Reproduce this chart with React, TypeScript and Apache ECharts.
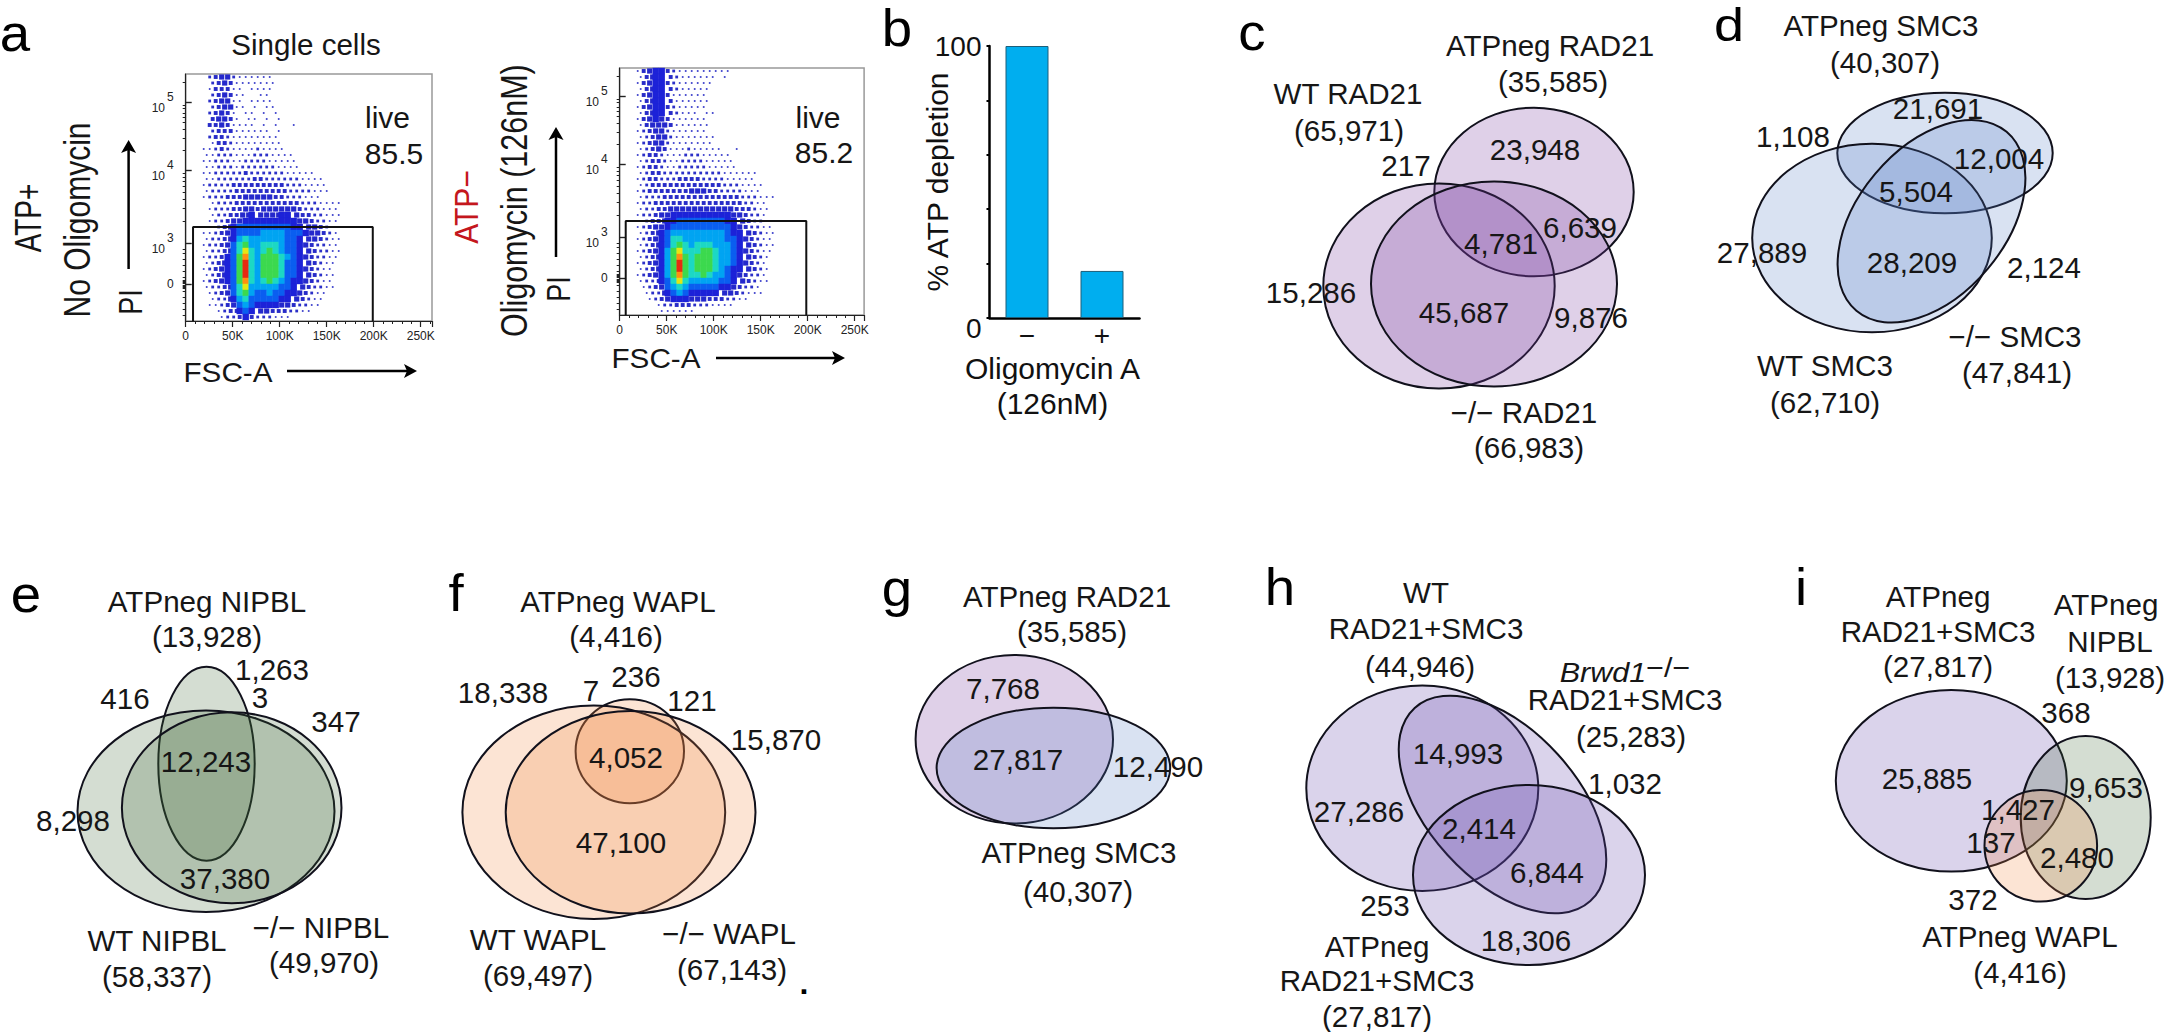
import React, { useEffect, useRef } from "react";
import * as echarts from "echarts";

const FONT = '"Liberation Sans", Arial, sans-serif';

// ---------- Panel a: flow cytometry density ----------
const liveGateTop = 94;
const fscTicks = ["0", "50K", "100K", "150K", "200K", "250K"];
const piMajorChannels = [37, 78, 151, 219];
const piMajorLabels = ["{a|0}", "{b|10}{c|3}", "{b|10}{c|4}", "{b|10}{c|5}"];
const piMinorChannels = [
  6, 12, 18, 24, 30, 33, 34, 35, 36, 38, 39, 40, 41, 44, 50, 56, 62, 68, 72, 100, 113, 122, 129,
  135, 140, 144, 148, 171, 183, 192, 199, 204, 208, 213, 216, 239,
];
const densityNoOligomycin = [
  "0023442111111",
  "0023431111111",
  "0013331101111",
  "0023431100110",
  "0023441101111",
  "0023441101011",
  "00234310110101",
  "00344310110101",
  "00334311110101001",
  "0023331111110100",
  "00233211111111",
  "00133211111111",
  "0112321111211110",
  "0112221112221111",
  "011222112222111110",
  "01122212222221111",
  "01122222322222211111",
  "011222222332222221111",
  "0122223333333332221111",
  "0122223333333332222111",
  "0122233344444332221110",
  "001222333333333332221111",
  "001222334434444443222111",
  "001223344544445543322111",
  "001223445555555554432211",
  "011234566666666655443211",
  "011234566667777666544321",
  "012234578777777665443211",
  "012234689778887665432211",
  "01223468a878987665432211",
  "01223569b879998765432211",
  "01234569c879998665432110",
  "01234569c879998665432110",
  "01234569c879998665432110",
  "01234569b878987655432110",
  "01223468a777776654322110",
  "001234689766766554321100",
  "001224578666665543211000",
  "0011234676555544322110",
  "0001233565443332211",
  "0000122353222111",
];
const densityOligomycin = [
  "01345532111111111",
  "0134553211111101",
  "0134553211111100",
  "0134553211111",
  "01345531111110",
  "0134553111111",
  "0134553211111",
  "0134553211101100",
  "0134543111111",
  "0134443111111",
  "0123442111111",
  "01234421111111",
  "01234421111111",
  "012343111211111001",
  "01233211122211111",
  "01233211222211111",
  "0123321122222111110",
  "012332222222222111111",
  "012332223333222211111",
  "0123333333333332221111",
  "0123333333444332222111",
  "012223333333333333222111",
  "01223333333333333332211",
  "012233444444444443332110",
  "012234455555555554432210",
  "012334556666666655432211",
  "012344566666666665432211",
  "012345677777777765543211",
  "012345688777777766543211",
  "012345689878887776543211",
  "01234579a888998776543211",
  "01234579b989998776543210",
  "01234579c989998776543210",
  "01234579c989998765543210",
  "01234579b988987765432210",
  "01223568a877777665432110",
  "00123467876666655432210",
  "0012245676555554432111",
  "000123455544433322110",
  "00001223332221111",
  "00000111111",
];

// ---------- Panel b ----------
const oligomycinCategories = ["−", "+"];
const atpDepletion = [100, 17.3];

// ---------- Venn panels: printed texts ----------
const textsC = ["ATPneg RAD21", "(35,585)", "WT RAD21", "(65,971)", "217", "23,948", "6,639", "4,781", "15,286", "45,687", "9,876", "−/− RAD21", "(66,983)"];
const textsD = ["ATPneg SMC3", "(40,307)", "21,691", "1,108", "12,004", "5,504", "27,889", "28,209", "2,124", "−/− SMC3", "(47,841)", "WT SMC3", "(62,710)"];
const textsE = ["ATPneg NIPBL", "(13,928)", "1,263", "416", "3", "347", "12,243", "8,298", "37,380", "−/− NIPBL", "(49,970)", "WT NIPBL", "(58,337)"];
const textsF = ["ATPneg WAPL", "(4,416)", "18,338", "7", "236", "121", "15,870", "4,052", "47,100", "WT WAPL", "(69,497)", "−/− WAPL", "(67,143)"];
const textsG = ["ATPneg RAD21", "(35,585)", "7,768", "27,817", "12,490", "ATPneg SMC3", "(40,307)"];
const textsH = ["WT", "RAD21+SMC3", "(44,946)", "{i|Brwd1}{s|−/−}", "RAD21+SMC3", "(25,283)", "1,032", "14,993", "27,286", "2,414", "6,844", "253", "18,306", "ATPneg", "RAD21+SMC3", "(27,817)"];
const textsI = ["ATPneg", "RAD21+SMC3", "(27,817)", "ATPneg", "NIPBL", "(13,928)", "368", "25,885", "9,653", "1,427", "137", "2,480", "372", "ATPneg WAPL", "(4,416)"];

// ---------- Layout (pixel positions of the drawing) ----------
const posC = [[1550,46],[1553,82],[1348,94],[1349,131],[1406,166],[1535,150],[1580,228],[1501,244],[1311,293],[1464,313],[1591,318],[1524,413],[1529,448]];
const posD = [[1881,26],[1885,63],[1938,109],[1793,137],[1999,159],[1916,192],[1762,253],[1912,263],[2044,268],[2015,337],[2017,373],[1825,366],[1825,403]];
const posE = [[207,602],[207,637],[272,670],[125,699],[260,698],[336,722],[206,762],[73,821],[225,879],[321,928],[324,963],[157,941],[157,977]];
const posF = [[618,602],[616,637],[503,693],[591,691],[636,677],[692,701],[776,740],[626,758],[621,843],[538,940],[538,976],[729,934],[732,970]];
const posG = [[1067,597],[1072,632],[1003,689],[1018,760],[1158,767],[1079,853],[1078,892]];
const posH = [[1426,593],[1426,629],[1420,667],[1625,673],[1625,700],[1631,737],[1625,784],[1458,754],[1359,812],[1479,829],[1547,873],[1385,906],[1526,941],[1377,947],[1377,981],[1377,1017]];
const posI = [[1938,597],[1938,632],[1938,667],[2106,605],[2110,642],[2110,678],[2066,713],[1927,779],[2106,788],[2018,810],[1991,843],[2077,858],[1973,900],[2020,937],[2020,973]];

const PURPLE = "rgba(120,60,160,0.24)";
const BLUE = "rgba(83,123,196,0.22)";
const GREEN = "rgba(60,100,50,0.22)";
const ORANGE = "rgba(240,130,60,0.22)";
const VIOLET = "rgba(100,70,170,0.24)";

// cx, cy, rx, ry, rotation in degrees (counter-clockwise), fill
const ellipses: [number, number, number, number, number, string][] = [
  [1534, 192, 99.7, 84.3, 0, PURPLE],
  [1439, 286, 115.7, 102.5, 0, PURPLE],
  [1494, 284, 123, 102.5, 0, PURPLE],
  [1945, 153, 107.7, 60.3, 0, BLUE],
  [1872, 238, 119.8, 94.3, 0, BLUE],
  [1931.5, 221.3, 73.6, 116.8, -40, BLUE],
  [206.5, 763.7, 48.2, 97, 0, GREEN],
  [206, 811.3, 128.5, 100.7, 0, GREEN],
  [231.7, 807.8, 109.8, 95.5, 0, GREEN],
  [629.8, 751.3, 54.2, 52, 0, ORANGE],
  [593.8, 812.3, 131.4, 106.7, 0, ORANGE],
  [630.6, 812.2, 124.9, 101.2, 0, ORANGE],
  [1014.3, 739.2, 98.7, 84.2, 0, PURPLE],
  [1053.4, 768, 116.8, 60.3, 0, BLUE],
  [1422.3, 788.3, 116, 102.7, 0, VIOLET],
  [1502.5, 804.5, 74.6, 130.5, 42.3, VIOLET],
  [1529, 875, 116, 90, 0, VIOLET],
  [1951.3, 780.8, 115.5, 90.8, 0, VIOLET],
  [2085.7, 817.5, 65, 81.5, 0, GREEN],
  [2040.8, 845.8, 56.3, 55.8, 0, ORANGE],
];

const densityColors = ["#ffffff","#3034c8","#2c30c8","#282cc8","#2428cc","#1c22d8","#0a5ef0","#00a4f2","#1cd8c4","#3cd94e","#e4e612","#ff8f10","#e62a10"];
const densitySizes = [0, 1.7, 2.8, 3.9, 5.2, 6.4, 6.4, 6.4, 6.4, 6.4, 6.4, 6.4, 6.4];

const label = (text: string, x: number, y: number, o: any = {}) => ({
  type: "text",
  x,
  y,
  rotation: o.rot ? (o.rot * Math.PI) / 180 : 0,
  scaleX: o.sx ?? 1.02,
  scaleY: o.sy ?? 1,
  z: 20,
  style: {
    text,
    font: `${o.w ?? "normal"} ${o.size ?? 29}px ${FONT}`,
    fill: o.fill ?? "#161616",
    align: "center",
    verticalAlign: "middle",
    textAlign: "center",
    textVerticalAlign: "middle",
    rich: o.rich,
  },
});

const arrowUp = (x: number, y0: number, y1: number) => [
  { type: "line", z: 20, shape: { x1: x, y1: y0, x2: x, y2: y1 + 8 }, style: { stroke: "#000", lineWidth: 2.5 } },
  { type: "polygon", z: 20, shape: { points: [[x - 7.5, y1 + 13], [x, y1], [x + 7.5, y1 + 13], [x, y1 + 10]] }, style: { fill: "#000" } },
];
const arrowRight = (x0: number, x1: number, y: number) => [
  { type: "line", z: 20, shape: { x1: x0, y1: y, x2: x1 - 8, y2: y }, style: { stroke: "#000", lineWidth: 2.5 } },
  { type: "polygon", z: 20, shape: { points: [[x1 - 13, y - 7], [x1, y], [x1 - 13, y + 7], [x1 - 10, y]] }, style: { fill: "#000" } },
];

const panelLabels: [string, number, number, number, number, number][] = [
  ["a", 15, 33, 52, 1.05, 1], ["b", 897, 28, 52, 1.05, 1], ["c", 1252, 32, 52, 1.05, 1], ["d", 1729, 25, 40, 1.35, 1.15],
  ["e", 26, 594, 52, 1.05, 1], ["f", 456, 593, 52, 1.05, 1], ["g", 897, 588, 52, 1.05, 1], ["h", 1280, 587, 52, 1.05, 1], ["i", 1801, 587, 52, 1.05, 1],
];

const FSC_BIN_START = 9570;
const FSC_BIN = 6383;
const CHANNEL_MAX = 247;
const cellsFrom = (rows: string[]) => {
  const out: number[][] = [];
  rows.forEach((row, r) => {
    row.split("").forEach((ch, c) => {
      const level = parseInt(ch, 16);
      // the sparse speckle sits on a brick pattern, the solid core on a plain one
      const shift = level < 5 && r % 2 ? 0.5 : 0;
      if (level > 0) out.push([FSC_BIN_START + FSC_BIN * (c + 0.5 + shift), CHANNEL_MAX - 3 - 6 * r, level]);
    });
  });
  return out;
};

const plotX = (xMax: number, gridIndex: number) => ({
  type: "value", gridIndex, min: 0, max: xMax, interval: 50000,
  axisLine: { show: true, onZero: false, lineStyle: { color: "#222", width: 1.2 } },
  axisTick: { show: true, length: 6, lineStyle: { color: "#222", width: 1.2 } },
  minorTick: { show: true, splitNumber: 5, length: 3, lineStyle: { color: "#222", width: 1 } },
  splitLine: { show: false }, minorSplitLine: { show: false },
  axisLabel: {
    fontFamily: FONT, fontSize: 12, color: "#222", margin: 9, showMaxLabel: false,
    formatter: (v: number) => fscTicks[Math.round(v / 50000)] ?? "",
  },
});
const plotYMinor = (gridIndex: number) => ({
  type: "value", gridIndex, min: 0, max: CHANNEL_MAX,
  axisLine: { show: true, onZero: false, lineStyle: { color: "#222", width: 1.2 } },
  axisTick: { show: true, length: 3, customValues: piMinorChannels, lineStyle: { color: "#222", width: 1 } },
  splitLine: { show: false },
  axisLabel: {
    customValues: piMajorChannels, margin: 12, color: "#222", fontFamily: FONT, fontSize: 12,
    formatter: (v: number) => piMajorLabels[piMajorChannels.indexOf(v)] ?? "",
    rich: {
      a: { fontFamily: FONT, fontSize: 12, color: "#222" },
      b: { fontFamily: FONT, fontSize: 12, color: "#222", padding: [11, 2, 0, 0] },
      c: { fontFamily: FONT, fontSize: 12, color: "#222", padding: [0, 0, 11, 0] },
    },
  },
});
const plotYMajor = (gridIndex: number) => ({
  type: "value", gridIndex, min: 0, max: CHANNEL_MAX,
  axisLine: { show: false },
  axisTick: { show: true, length: 6, customValues: piMajorChannels, lineStyle: { color: "#222", width: 1.4 } },
  axisLabel: { show: false }, splitLine: { show: false },
});

const cellSeries = (rows: string[], axis: number) => ({
  type: "scatter", xAxisIndex: axis, yAxisIndex: axis * 2, symbol: "rect", silent: true,
  symbolSize: (v: number[]) => densitySizes[v[2]],
  itemStyle: { color: (p: any) => densityColors[p.value[2]], opacity: 1 },
  data: cellsFrom(rows), z: 2,
});
const gateSeries = (left: number, right: number, axis: number) => ({
  type: "line", xAxisIndex: axis, yAxisIndex: axis * 2, symbol: "none", silent: true, z: 5,
  lineStyle: { color: "#111", width: 2 },
  data: [[left, 0], [left, liveGateTop], [right, liveGateTop], [right, 0]],
});

export default function App() {
  const ref = useRef<HTMLDivElement>(null);
  useEffect(() => {
    document.body.style.margin = "0";
    document.body.style.background = "#fff";
    const chart = echarts.init(ref.current!, undefined, { renderer: "svg" });
    const vennTexts = [
      ...[textsC, textsD, textsE, textsF, textsG, textsH, textsI].flatMap((list, i) => {
        const pos = [posC, posD, posE, posF, posG, posH, posI][i];
        return list.map((t, j) => label(t, pos[j][0], pos[j][1], t.startsWith("{i|") ? {
          sx: 1.13,
          rich: {
            i: { font: `italic 27px ${FONT}`, fill: "#161616" },
            s: { font: `normal 27px ${FONT}`, fill: "#161616", padding: [0, 0, 10, 0] },
          },
        } : {}));
      }),
    ];
    chart.setOption({
      animation: false,
      backgroundColor: "#ffffff",
      grid: [
        { left: 185.7, top: 74, width: 246.3, height: 247, show: true, borderColor: "#999", borderWidth: 1.5, backgroundColor: "#fff" },
        { left: 619.7, top: 68, width: 244.4, height: 247, show: true, borderColor: "#999", borderWidth: 1.5, backgroundColor: "#fff" },
        { left: 989.5, top: 46, width: 150, height: 272 },
      ],
      xAxis: [
        plotX(262000, 0),
        plotX(260000, 1),
        {
          type: "category", gridIndex: 2, data: oligomycinCategories,
          axisLine: { lineStyle: { color: "#000", width: 2.5 } }, axisTick: { show: false },
          axisLabel: { fontFamily: FONT, fontSize: 28, color: "#111", margin: 4, lineHeight: 26 },
          name: "Oligomycin A\n(126nM)", nameLocation: "middle", nameGap: 33, nameMoveOverlap: false,
          nameTextStyle: { fontFamily: FONT, fontSize: 30, color: "#111", lineHeight: 35, padding: [0, 24, 0, 0] },
        },
      ],
      yAxis: [
        plotYMinor(0), plotYMajor(0), plotYMinor(1), plotYMajor(1),
        {
          type: "value", gridIndex: 2, min: 0, max: 100, interval: 20,
          axisLine: { show: true, lineStyle: { color: "#000", width: 2.5 } },
          axisTick: { show: true, length: 3, lineStyle: { color: "#000", width: 2 } },
          splitLine: { show: false },
          axisLabel: {
            fontFamily: FONT, fontSize: 28, color: "#111", margin: 8,
            formatter: (v: number) => (v === 0 ? "{z|0}" : v === 100 ? "100" : ""),
            rich: { z: { fontFamily: FONT, fontSize: 28, color: "#111", padding: [20, 0, 0, 0] } },
          },
          name: "% ATP depletion", nameLocation: "middle", nameGap: 37, nameRotate: 90, nameMoveOverlap: false,
          nameTextStyle: { fontFamily: FONT, fontSize: 30, color: "#111" },
        },
      ],
      series: [
        cellSeries(densityNoOligomycin, 0),
        cellSeries(densityOligomycin, 1),
        gateSeries(7800, 199000, 0),
        gateSeries(6400, 198500, 1),
        {
          type: "bar", xAxisIndex: 2, yAxisIndex: 4, data: atpDepletion, barWidth: 43, silent: true,
          itemStyle: { color: "#00aeef", borderColor: "#1d5f7a", borderWidth: 1 },
        },
      ],
      graphic: [
        ...ellipses.map(([cx, cy, rx, ry, deg, fill]) => ({
          type: "ellipse", x: cx, y: cy, rotation: (deg * Math.PI) / 180, z: 10,
          shape: { cx: 0, cy: 0, rx, ry }, style: { fill, stroke: "#11111c", lineWidth: 2 },
        })),
        ...vennTexts,
        ...panelLabels.map(([t, x, y, s, sx, sy]) => label(t, x, y, { size: s, sx, sy, fill: "#000" })),
        label(".", 804, 983, { size: 32, w: "bold", sx: 1, fill: "#000" }),
        label("Single cells", 306, 45, { size: 29 }),
        label("ATP+", 29, 218, { size: 28, rot: 90, sx: 1, sy: 1.3 }),
        label("No Oligomycin", 77.5, 220, { size: 30, rot: 90, sx: 1, sy: 1.22 }),
        label("PI", 131, 302, { size: 27, rot: 90, sx: 1, sy: 1.22 }),
        ...arrowUp(128.6, 269, 140),
        label("FSC-A", 228, 372, { size: 28, sx: 1.06 }),
        ...arrowRight(287, 417, 371),
        label("live", 387.5, 117, { size: 30, sx: 1 }),
        label("85.5", 394, 153, { size: 30, sx: 1 }),
        label("ATP−", 466, 207, { size: 30, rot: 90, sx: 1, sy: 1.1, fill: "#c4171d" }),
        label("Oligomycin (126nM)", 515, 200.7, { size: 30.5, rot: 90, sx: 1, sy: 1.2 }),
        label("PI", 558.5, 289, { size: 27, rot: 90, sx: 1, sy: 1.22 }),
        ...arrowUp(556, 257, 127),
        label("FSC-A", 656, 358, { size: 28, sx: 1.06 }),
        ...arrowRight(716, 845, 358),
        label("live", 818, 117, { size: 30, sx: 1 }),
        label("85.2", 824, 152, { size: 30, sx: 1 }),
      ],
    });
    return () => chart.dispose();
  }, []);
  return <div ref={ref} style={{ width: 2168, height: 1032 }} />;
}
